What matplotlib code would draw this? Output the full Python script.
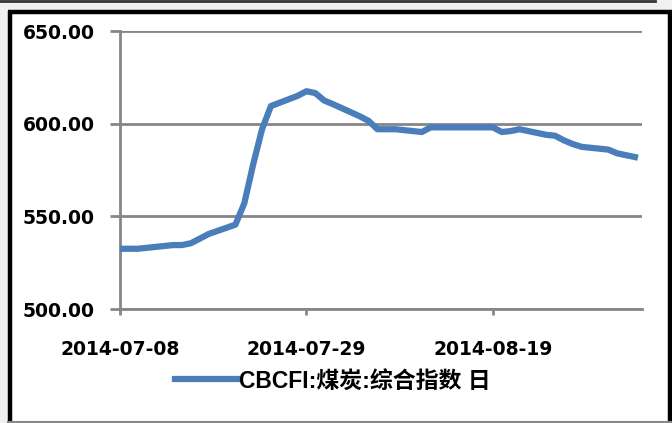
import datetime as dt
import matplotlib
matplotlib.use("Agg")
import matplotlib.pyplot as plt
import matplotlib.dates as mdates
from matplotlib.patches import Rectangle
from matplotlib.lines import Line2D

# CBCFI coal composite index, trading days
dates = ["2014-07-08", "2014-07-09", "2014-07-10", "2014-07-11",
         "2014-07-14", "2014-07-15", "2014-07-16", "2014-07-17", "2014-07-18",
         "2014-07-21", "2014-07-22", "2014-07-23", "2014-07-24", "2014-07-25",
         "2014-07-28", "2014-07-29", "2014-07-30", "2014-07-31", "2014-08-01",
         "2014-08-04", "2014-08-05", "2014-08-06", "2014-08-07", "2014-08-08",
         "2014-08-11", "2014-08-12", "2014-08-13", "2014-08-14", "2014-08-15",
         "2014-08-18", "2014-08-19", "2014-08-20", "2014-08-21", "2014-08-22",
         "2014-08-25", "2014-08-26", "2014-08-27", "2014-08-28", "2014-08-29",
         "2014-09-01", "2014-09-02", "2014-09-03", "2014-09-04"]
values = [532.5, 532.5, 532.5, 533.0,
          534.5, 534.5, 535.5, 538.0, 540.5,
          545.5, 557.0, 578.0, 597.0, 609.5,
          615.0, 617.5, 616.5, 612.5, 610.5,
          604.0, 601.5, 597.0, 597.0, 597.0,
          595.5, 598.0, 598.0, 598.0, 598.0,
          598.0, 598.0, 595.5, 596.0, 597.0,
          594.0, 593.5, 591.0, 589.0, 587.5,
          586.0, 584.0, 583.0, 582.0]
tick_dates = ["2014-07-08", "2014-07-29", "2014-08-19"]
y_ticks = [500, 550, 600, 650]
series_name = "CBCFI:煤炭:综合指数 日"

x = [dt.datetime.strptime(d, "%Y-%m-%d") for d in dates]
xt = [dt.datetime.strptime(d, "%Y-%m-%d") for d in tick_dates]

W, H = 672, 423
fig = plt.figure(figsize=(W / 100, H / 100), dpi=100)
fig.patch.set_facecolor("#f0f0f0")

# white chart area with dark border
fig.patches.append(Rectangle((8 / W, 0), 1 - 8 / W, 1 - 11 / H, transform=fig.transFigure,
                             facecolor="white", edgecolor="none", zorder=-5))
border = dict(transform=fig.transFigure, color="black", lw=3.2, solid_capstyle="butt")
fig.add_artist(Line2D([10 / W, 10 / W], [0, 1 - 11 / H], **border))
fig.add_artist(Line2D([8 / W, 1], [1 - 12.5 / H, 1 - 12.5 / H], **border))
fig.add_artist(Line2D([670 / W, 670 / W], [0, 1 - 11 / H], **border))
fig.add_artist(Line2D([8 / W, 1], [1.5 / H, 1.5 / H], transform=fig.transFigure,
                      color="#888888", lw=1.5))
fig.add_artist(Line2D([0, 655 / W], [1 - 1 / H, 1 - 1 / H], transform=fig.transFigure,
                      color="#333333", lw=2))

ax = fig.add_axes([120 / W, 1 - 309 / H, (642 - 120) / W, (309 - 31) / H])
ax.set_facecolor("none")

grid_c = "#868686"
ax.plot(x, values, color="#4a7ebb", lw=4.5, solid_joinstyle="round", zorder=3)

ax.set_ylim(500, 650)
ax.set_yticks(y_ticks)
ax.set_yticklabels([f"{v:.2f}" for v in y_ticks])
ax.set_xlim(x[0], x[0] + dt.timedelta(days=58.8))
ax.set_xticks(xt)
ax.xaxis.set_major_formatter(mdates.DateFormatter("%Y-%m-%d"))

ax.grid(axis="y", color=grid_c, lw=2)
ax.set_axisbelow(True)
for s in ["top", "right"]:
    ax.spines[s].set_visible(False)
for s in ["left", "bottom"]:
    ax.spines[s].set_color(grid_c)
    ax.spines[s].set_linewidth(2)

ax.tick_params(axis="y", length=7.5, width=2, color=grid_c, pad=10.5)
ax.tick_params(axis="x", length=4.5, width=2, color=grid_c, pad=18)
for lab in ax.get_xticklabels() + ax.get_yticklabels():
    lab.set_family("DejaVu Sans")
    lab.set_fontweight("bold")
    lab.set_fontsize(13.5)

handle = Line2D([], [], color="#4a7ebb", lw=4.5)
fig.legend([handle], [series_name], loc="center", bbox_to_anchor=(333 / W, 1 - 381 / H),
           frameon=False, handlelength=2.7, handletextpad=0.1,
           prop={"family": ["Liberation Sans", "Noto Sans CJK SC"], "weight": "bold", "size": 16.5})

fig.savefig("out.png", dpi=100, facecolor=fig.get_facecolor())
